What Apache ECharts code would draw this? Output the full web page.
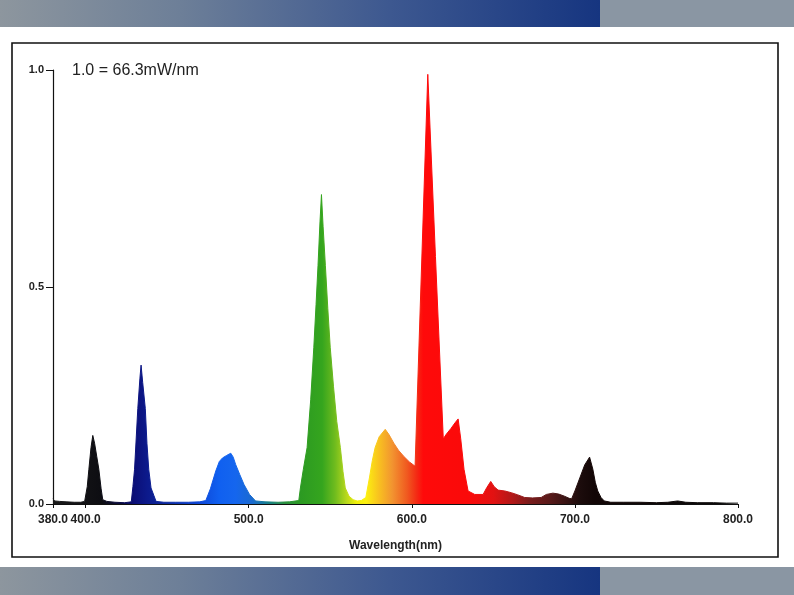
<!DOCTYPE html>
<html>
<head>
  <meta charset="utf-8">
  <title>Spectrum</title>
  <script src="https://cdn.jsdelivr.net/npm/echarts@6/dist/echarts.min.js"></script>
  <style>
    html, body { margin: 0; padding: 0; background: #fff; }
    #main { width: 794px; height: 595px; }
  </style>
</head>
<body>
<div id="main"></div>
<script>
  // wavelength (nm) and relative intensity
  var wavelength = [
    380, 381, 384, 388, 393, 397, 399.4, 401, 402, 403.3, 404.4, 405.5, 406.8, 408.1, 409.5, 410.5, 413, 418, 424,
    428, 429, 430, 432, 433.3, 434, 435, 436.6, 437.6, 438.7, 440.1, 441.8, 443.2, 448, 455, 463, 470,
    473.7, 476.5, 479.8, 482, 483.9, 486.5, 489, 490.5, 492, 494.5, 497.1, 500.5, 504.2, 510, 518, 525,
    530.7, 531.7, 533.5, 535.8, 538, 539.9, 541.3, 542.5, 543.7, 544.6, 545.6, 547, 548.5, 550, 552, 554,
    556.2, 557.8, 559.2, 561.5, 564, 566.5, 569, 571.8, 574, 575.8, 577.5, 580, 583.7, 586, 589, 591.8,
    595, 598.5, 602, 603, 609.8, 614.5, 619.3, 621, 624, 626.5, 628.4, 630, 632, 634.5, 638.6, 643.7,
    646, 648.4, 650.5, 652.9, 657, 661, 665, 669.2, 674, 679.3, 682.5, 686.5, 690, 693.6, 696.5, 698,
    700, 703, 706, 709, 711, 712.5, 714, 716, 718, 722, 730, 740, 750, 757, 763, 768, 775, 785, 793, 800
  ];
  var intensity = [
    0.012, 0.007, 0.006, 0.005, 0.004, 0.004, 0.006, 0.04, 0.08, 0.13, 0.158, 0.14, 0.11, 0.08, 0.035, 0.01, 0.006, 0.004, 0.003,
    0.005, 0.04, 0.08, 0.22, 0.29, 0.32, 0.28, 0.22, 0.14, 0.08, 0.037, 0.02, 0.006, 0.004, 0.004, 0.004, 0.005,
    0.008, 0.035, 0.076, 0.098, 0.106, 0.112, 0.117, 0.108, 0.091, 0.068, 0.045, 0.022, 0.007, 0.005, 0.004, 0.005,
    0.008, 0.037, 0.08, 0.13, 0.24, 0.36, 0.46, 0.55, 0.65, 0.713, 0.64, 0.55, 0.45, 0.36, 0.27, 0.19,
    0.13, 0.075, 0.037, 0.018, 0.01, 0.007, 0.008, 0.015, 0.06, 0.1, 0.13, 0.155, 0.172, 0.16, 0.14, 0.124,
    0.11, 0.097, 0.087, 0.09, 0.99, 0.57, 0.15, 0.16, 0.174, 0.187, 0.196, 0.15, 0.08, 0.03, 0.022, 0.022,
    0.038, 0.052, 0.04, 0.032, 0.03, 0.026, 0.021, 0.015, 0.014, 0.015, 0.022, 0.025, 0.023, 0.018, 0.013, 0.012,
    0.03, 0.06, 0.09, 0.108, 0.08, 0.05, 0.03, 0.015, 0.007, 0.004, 0.004, 0.004, 0.003, 0.004, 0.007, 0.004, 0.003, 0.003, 0.002, 0.002
  ];
  var xTicks = [380, 400, 500, 600, 700, 800];

  // spectral colour under the curve
  var stopWl = [380, 410, 422, 430, 438, 450, 470, 482, 492, 502, 512, 522, 532, 545, 553, 560, 566, 572,
    580, 588, 597, 603, 607, 635, 650, 662, 672, 684, 694, 703, 712, 800];
  var stopColor = ['#1a1a1a', '#0d0d12', '#0a0a40', '#0b0f78', '#0c1a8c', '#0d2aa0', '#0e48d8', '#1060f0',
    '#1566ee', '#1a6ad0', '#17808a', '#2a9040', '#2c9a22', '#35a51e', '#70bc1e', '#b8d81c', '#f0f00a', '#fcf010',
    '#f8c020', '#f29430', '#f05a20', '#f42a14', '#ff0a0a', '#fa0a0a', '#e21212', '#b01818', '#7a1c1c', '#5a1a1a',
    '#3a1414', '#1c0c0c', '#120606', '#0a0a0a'];

  var wlMin = 380, wlMax = 800;
  var points = wavelength.map(function (w, i) { return [w, intensity[i]]; });
  var stops = stopWl.map(function (w, i) {
    return { offset: (w - wlMin) / (wlMax - wlMin), color: stopColor[i] };
  });
  var spectrum = new echarts.graphic.LinearGradient(0, 0, 1, 0, stops);

  var band = new echarts.graphic.LinearGradient(0, 0, 1, 0, [
    { offset: 0, color: '#8d969e' },
    { offset: 0.3, color: '#6d7f98' },
    { offset: 0.65, color: '#3d5890' },
    { offset: 1, color: '#163580' }
  ]);

  var chart = echarts.init(document.getElementById('main'));
  chart.setOption({
    animation: false,
    backgroundColor: '#fff',
    textStyle: { fontFamily: 'Liberation Sans, Arial, sans-serif' },
    grid: { left: 53, right: 56, top: 70, bottom: 91 },
    graphic: [
      { type: 'rect', shape: { x: 0, y: 0, width: 600, height: 27 }, style: { fill: band }, silent: true },
      { type: 'rect', shape: { x: 600, y: 0, width: 194, height: 27 }, style: { fill: '#8a96a3' }, silent: true },
      { type: 'rect', shape: { x: 0, y: 567, width: 600, height: 28 }, style: { fill: band }, silent: true },
      { type: 'rect', shape: { x: 600, y: 567, width: 194, height: 28 }, style: { fill: '#8a96a3' }, silent: true },
      {
        type: 'rect', shape: { x: 12, y: 43, width: 766, height: 514 },
        style: { fill: null, stroke: '#111', lineWidth: 1.6 }, silent: true
      },
      {
        type: 'text', left: 72, top: 63,
        style: { text: '1.0 = 66.3mW/nm', fontSize: 16, fill: '#222', fontFamily: 'Liberation Sans, Arial, sans-serif' }
      }
    ],
    xAxis: {
      type: 'value',
      min: wlMin,
      max: wlMax,
      splitLine: { show: false },
      axisLine: { lineStyle: { color: '#111', width: 1.2 } },
      axisTick: { customValues: xTicks, length: 4, lineStyle: { color: '#111' } },
      axisLabel: {
        customValues: xTicks,
        margin: 10,
        fontSize: 12,
        fontWeight: 'bold',
        color: '#222',
        formatter: function (v) { return v.toFixed(1); }
      },
      name: 'Wavelength(nm)',
      nameLocation: 'middle',
      nameGap: 36,
      nameTextStyle: { fontSize: 12, fontWeight: 'bold', color: '#222' }
    },
    yAxis: {
      type: 'value',
      min: 0,
      max: 1,
      interval: 0.5,
      splitLine: { show: false },
      axisLine: { show: true, lineStyle: { color: '#111', width: 1.2 } },
      axisTick: { show: true, length: 7, lineStyle: { color: '#111' } },
      axisLabel: {
        margin: 9,
        fontSize: 11,
        fontWeight: 'bold',
        color: '#222',
        padding: [0, 0, 7, 0],
        formatter: function (v) { return v.toFixed(1); }
      }
    },
    series: [
      {
        type: 'line',
        data: points,
        symbol: 'none',
        smooth: false,
        lineStyle: { color: spectrum, width: 1 },
        areaStyle: { color: spectrum, opacity: 1 }
      }
    ]
  });
</script>
</body>
</html>
